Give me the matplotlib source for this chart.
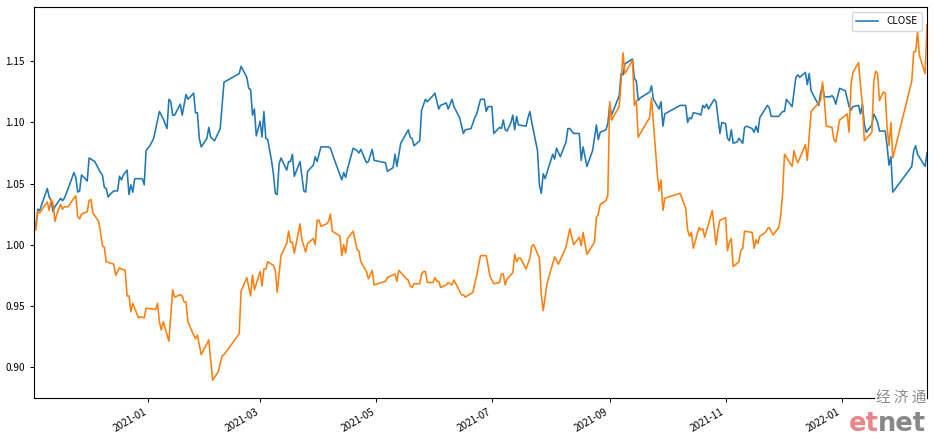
import matplotlib
matplotlib.use("Agg")
import matplotlib.pyplot as plt
import matplotlib.dates as mdates
import pandas as pd

plt.rcParams['font.family'] = ['Noto Sans CJK SC', 'DejaVu Sans']
plt.rcParams['font.size'] = 7.2

blue_label = "CLOSE"

blue_dates = [
    "2020-11-02", "2020-11-03", "2020-11-04", "2020-11-05", "2020-11-09", "2020-11-10", "2020-11-11",
    "2020-11-12", "2020-11-13", "2020-11-16", "2020-11-17", "2020-11-18", "2020-11-20", "2020-11-23",
    "2020-11-24", "2020-11-25", "2020-11-26", "2020-11-27", "2020-11-29", "2020-11-30", "2020-12-01",
    "2020-12-02", "2020-12-04", "2020-12-07", "2020-12-08", "2020-12-09", "2020-12-10", "2020-12-11",
    "2020-12-12", "2020-12-14", "2020-12-16", "2020-12-17", "2020-12-18", "2020-12-19", "2020-12-21",
    "2020-12-22", "2020-12-23", "2020-12-24", "2020-12-25", "2020-12-29", "2020-12-30", "2020-12-31",
    "2021-01-02", "2021-01-04", "2021-01-07", "2021-01-09", "2021-01-11", "2021-01-12", "2021-01-13",
    "2021-01-14", "2021-01-15", "2021-01-18", "2021-01-19", "2021-01-21", "2021-01-22", "2021-01-25",
    "2021-01-26", "2021-01-27", "2021-01-28", "2021-01-29", "2021-02-01", "2021-02-02", "2021-02-03",
    "2021-02-05", "2021-02-08", "2021-02-10", "2021-02-18", "2021-02-19", "2021-02-22", "2021-02-23",
    "2021-02-24", "2021-02-25", "2021-02-26", "2021-02-27", "2021-03-01", "2021-03-02", "2021-03-03",
    "2021-03-04", "2021-03-05", "2021-03-07", "2021-03-08", "2021-03-09", "2021-03-10", "2021-03-11",
    "2021-03-12", "2021-03-15", "2021-03-16", "2021-03-17", "2021-03-18", "2021-03-19", "2021-03-22",
    "2021-03-24", "2021-03-25", "2021-03-26", "2021-03-29", "2021-03-30", "2021-03-31", "2021-04-02",
    "2021-04-06", "2021-04-07", "2021-04-09", "2021-04-13", "2021-04-14", "2021-04-15", "2021-04-16",
    "2021-04-19", "2021-04-21", "2021-04-22", "2021-04-23", "2021-04-26", "2021-04-27", "2021-04-29",
    "2021-04-30", "2021-05-06", "2021-05-07", "2021-05-10", "2021-05-11", "2021-05-12", "2021-05-14",
    "2021-05-18", "2021-05-19", "2021-05-20", "2021-05-21", "2021-05-24", "2021-05-25", "2021-05-27",
    "2021-05-28", "2021-05-31", "2021-06-01", "2021-06-03", "2021-06-04", "2021-06-07", "2021-06-08",
    "2021-06-10", "2021-06-11", "2021-06-14", "2021-06-16", "2021-06-17", "2021-06-20", "2021-06-22",
    "2021-06-23", "2021-06-25", "2021-06-27", "2021-06-28", "2021-06-29", "2021-06-30", "2021-07-01",
    "2021-07-02", "2021-07-05", "2021-07-06", "2021-07-07", "2021-07-08", "2021-07-09", "2021-07-11",
    "2021-07-12", "2021-07-13", "2021-07-14", "2021-07-15", "2021-07-19", "2021-07-20", "2021-07-21",
    "2021-07-22", "2021-07-25", "2021-07-26", "2021-07-27", "2021-07-28", "2021-07-29", "2021-08-02",
    "2021-08-03", "2021-08-04", "2021-08-06", "2021-08-09", "2021-08-10", "2021-08-11", "2021-08-13",
    "2021-08-16", "2021-08-17", "2021-08-18", "2021-08-20", "2021-08-23", "2021-08-25", "2021-08-26",
    "2021-08-27", "2021-08-30", "2021-08-31", "2021-09-01", "2021-09-02", "2021-09-06", "2021-09-07",
    "2021-09-08", "2021-09-09", "2021-09-13", "2021-09-14", "2021-09-15", "2021-09-16", "2021-09-17",
    "2021-09-22", "2021-09-23", "2021-09-24", "2021-09-27", "2021-09-28", "2021-09-29", "2021-09-30",
    "2021-10-08", "2021-10-11", "2021-10-12", "2021-10-13", "2021-10-14", "2021-10-15", "2021-10-18",
    "2021-10-19", "2021-10-20", "2021-10-21", "2021-10-22", "2021-10-23", "2021-10-26", "2021-10-27",
    "2021-10-29", "2021-10-30", "2021-11-01", "2021-11-02", "2021-11-03", "2021-11-04", "2021-11-05",
    "2021-11-07", "2021-11-08", "2021-11-10", "2021-11-11", "2021-11-12", "2021-11-15", "2021-11-16",
    "2021-11-17", "2021-11-18", "2021-11-19", "2021-11-23", "2021-11-24", "2021-11-25", "2021-11-29",
    "2021-12-01", "2021-12-02", "2021-12-03", "2021-12-05", "2021-12-06", "2021-12-08", "2021-12-09",
    "2021-12-10", "2021-12-13", "2021-12-14", "2021-12-15", "2021-12-16", "2021-12-20", "2021-12-21",
    "2021-12-22", "2021-12-23", "2021-12-26", "2021-12-27", "2021-12-28", "2021-12-29", "2021-12-31",
    "2022-01-03", "2022-01-05", "2022-01-06", "2022-01-07", "2022-01-10", "2022-01-11", "2022-01-12",
    "2022-01-13", "2022-01-14", "2022-01-17", "2022-01-18", "2022-01-19", "2022-01-20", "2022-01-21",
    "2022-01-24", "2022-01-25", "2022-01-26", "2022-01-27", "2022-01-28", "2022-02-07", "2022-02-08",
    "2022-02-09", "2022-02-10", "2022-02-14", "2022-02-15",
]
blue_vals = [
    1.014, 1.016, 1.029, 1.028, 1.046, 1.039, 1.036,
    1.027, 1.031, 1.038, 1.036, 1.038, 1.046, 1.059,
    1.055, 1.043, 1.044, 1.057, 1.054, 1.052, 1.071,
    1.070, 1.068, 1.059, 1.057, 1.047, 1.046, 1.039,
    1.041, 1.044, 1.044, 1.056, 1.053, 1.057, 1.061,
    1.041, 1.049, 1.043, 1.054, 1.054, 1.049, 1.077,
    1.081, 1.087, 1.109, 1.103, 1.095, 1.119, 1.117,
    1.106, 1.106, 1.115, 1.106, 1.123, 1.119, 1.124,
    1.108, 1.108, 1.087, 1.080, 1.087, 1.096, 1.088,
    1.085, 1.095, 1.133, 1.140, 1.146, 1.137, 1.128,
    1.127, 1.106, 1.111, 1.089, 1.101, 1.088, 1.109,
    1.087, 1.086, 1.069, 1.058, 1.042, 1.041, 1.066,
    1.071, 1.061, 1.068, 1.068, 1.074, 1.056, 1.068,
    1.044, 1.043, 1.060, 1.065, 1.072, 1.068, 1.080,
    1.080, 1.079, 1.070, 1.053, 1.059, 1.055, 1.062,
    1.079, 1.077, 1.075, 1.078, 1.067, 1.068, 1.078,
    1.069, 1.067, 1.060, 1.063, 1.074, 1.064, 1.083,
    1.094, 1.088, 1.087, 1.081, 1.085, 1.110, 1.119,
    1.117, 1.122, 1.124, 1.111, 1.114, 1.116, 1.111,
    1.119, 1.113, 1.104, 1.091, 1.094, 1.095, 1.104,
    1.107, 1.119, 1.119, 1.109, 1.113, 1.113, 1.113,
    1.091, 1.096, 1.095, 1.102, 1.094, 1.093, 1.100,
    1.106, 1.094, 1.105, 1.098, 1.097, 1.104, 1.109,
    1.100, 1.077, 1.049, 1.042, 1.058, 1.054, 1.074,
    1.070, 1.079, 1.072, 1.084, 1.095, 1.095, 1.091,
    1.091, 1.069, 1.080, 1.064, 1.077, 1.098, 1.086,
    1.092, 1.094, 1.099, 1.114, 1.106, 1.122, 1.140,
    1.139, 1.148, 1.152, 1.136, 1.134, 1.118, 1.120,
    1.125, 1.130, 1.119, 1.111, 1.117, 1.097, 1.107,
    1.114, 1.114, 1.100, 1.104, 1.103, 1.108, 1.107,
    1.106, 1.114, 1.112, 1.115, 1.111, 1.119, 1.117,
    1.091, 1.100, 1.099, 1.087, 1.085, 1.094, 1.083,
    1.084, 1.087, 1.083, 1.096, 1.097, 1.095, 1.092,
    1.097, 1.092, 1.104, 1.114, 1.112, 1.105, 1.105,
    1.109, 1.109, 1.119, 1.115, 1.113, 1.137, 1.139,
    1.137, 1.141, 1.131, 1.140, 1.126, 1.114, 1.124,
    1.130, 1.121, 1.121, 1.122, 1.120, 1.115, 1.128,
    1.126, 1.113, 1.110, 1.113, 1.114, 1.107, 1.115,
    1.099, 1.092, 1.098, 1.107, 1.104, 1.100, 1.093,
    1.093, 1.081, 1.065, 1.072, 1.043, 1.064, 1.077,
    1.081, 1.074, 1.064, 1.075,
]

orange_dates = [
    "2020-11-02", "2020-11-03", "2020-11-04", "2020-11-05", "2020-11-09", "2020-11-10", "2020-11-11",
    "2020-11-12", "2020-11-13", "2020-11-14", "2020-11-16", "2020-11-17", "2020-11-18", "2020-11-20",
    "2020-11-23", "2020-11-24", "2020-11-25", "2020-11-26", "2020-11-27", "2020-11-30", "2020-12-01",
    "2020-12-02", "2020-12-03", "2020-12-06", "2020-12-07", "2020-12-08", "2020-12-09", "2020-12-10",
    "2020-12-14", "2020-12-15", "2020-12-17", "2020-12-18", "2020-12-20", "2020-12-21", "2020-12-22",
    "2020-12-23", "2020-12-24", "2020-12-27", "2020-12-28", "2020-12-30", "2020-12-31", "2021-01-05",
    "2021-01-06", "2021-01-07", "2021-01-08", "2021-01-09", "2021-01-12", "2021-01-14", "2021-01-15",
    "2021-01-18", "2021-01-19", "2021-01-20", "2021-01-21", "2021-01-22", "2021-01-25", "2021-01-26",
    "2021-01-27", "2021-01-29", "2021-02-02", "2021-02-04", "2021-02-07", "2021-02-09", "2021-02-10",
    "2021-02-18", "2021-02-19", "2021-02-22", "2021-02-24", "2021-02-25", "2021-02-26", "2021-03-01",
    "2021-03-02", "2021-03-03", "2021-03-04", "2021-03-05", "2021-03-08", "2021-03-09", "2021-03-10",
    "2021-03-12", "2021-03-15", "2021-03-16", "2021-03-17", "2021-03-18", "2021-03-19", "2021-03-22",
    "2021-03-23", "2021-03-25", "2021-03-26", "2021-03-29", "2021-03-30", "2021-03-31", "2021-04-01",
    "2021-04-02", "2021-04-05", "2021-04-06", "2021-04-07", "2021-04-08", "2021-04-12", "2021-04-13",
    "2021-04-14", "2021-04-15", "2021-04-16", "2021-04-19", "2021-04-21", "2021-04-22", "2021-04-23",
    "2021-04-26", "2021-04-27", "2021-04-29", "2021-04-30", "2021-05-06", "2021-05-07", "2021-05-11",
    "2021-05-12", "2021-05-13", "2021-05-17", "2021-05-18", "2021-05-19", "2021-05-20", "2021-05-21",
    "2021-05-24", "2021-05-25", "2021-05-26", "2021-05-27", "2021-05-28", "2021-05-31", "2021-06-01",
    "2021-06-02", "2021-06-03", "2021-06-04", "2021-06-07", "2021-06-08", "2021-06-10", "2021-06-11",
    "2021-06-15", "2021-06-16", "2021-06-17", "2021-06-21", "2021-06-23", "2021-06-25", "2021-06-28",
    "2021-06-30", "2021-07-02", "2021-07-05", "2021-07-06", "2021-07-07", "2021-07-08", "2021-07-09",
    "2021-07-12", "2021-07-13", "2021-07-14", "2021-07-15", "2021-07-16", "2021-07-19", "2021-07-21",
    "2021-07-22", "2021-07-23", "2021-07-26", "2021-07-27", "2021-07-28", "2021-07-30", "2021-08-03",
    "2021-08-05", "2021-08-09", "2021-08-11", "2021-08-13", "2021-08-16", "2021-08-17", "2021-08-18",
    "2021-08-20", "2021-08-24", "2021-08-25", "2021-08-26", "2021-08-27", "2021-08-30", "2021-08-31",
    "2021-09-01", "2021-09-02", "2021-09-06", "2021-09-07", "2021-09-08", "2021-09-09", "2021-09-13",
    "2021-09-14", "2021-09-15", "2021-09-16", "2021-09-22", "2021-09-23", "2021-09-26", "2021-09-27",
    "2021-09-28", "2021-09-29", "2021-09-30", "2021-10-08", "2021-10-11", "2021-10-12", "2021-10-13",
    "2021-10-14", "2021-10-15", "2021-10-18", "2021-10-19", "2021-10-20", "2021-10-21", "2021-10-25",
    "2021-10-27", "2021-10-28", "2021-10-29", "2021-11-01", "2021-11-02", "2021-11-03", "2021-11-04",
    "2021-11-05", "2021-11-08", "2021-11-09", "2021-11-10", "2021-11-11", "2021-11-15", "2021-11-16",
    "2021-11-17", "2021-11-18", "2021-11-19", "2021-11-22", "2021-11-23", "2021-11-24", "2021-11-26",
    "2021-11-29", "2021-11-30", "2021-12-01", "2021-12-02", "2021-12-06", "2021-12-07", "2021-12-08",
    "2021-12-09", "2021-12-13", "2021-12-14", "2021-12-16", "2021-12-20", "2021-12-21", "2021-12-22",
    "2021-12-23", "2021-12-24", "2021-12-27", "2021-12-28", "2021-12-29", "2021-12-31", "2022-01-04",
    "2022-01-05", "2022-01-06", "2022-01-07", "2022-01-10", "2022-01-11", "2022-01-12", "2022-01-13",
    "2022-01-17", "2022-01-18", "2022-01-19", "2022-01-20", "2022-01-21", "2022-01-23", "2022-01-24",
    "2022-01-25", "2022-01-26", "2022-01-27", "2022-01-28", "2022-02-07", "2022-02-08", "2022-02-09",
    "2022-02-10", "2022-02-11", "2022-02-14", "2022-02-15",
]
orange_vals = [
    1.014, 1.012, 1.027, 1.026, 1.035, 1.028, 1.037,
    1.034, 1.019, 1.025, 1.033, 1.029, 1.031, 1.031,
    1.038, 1.040, 1.023, 1.021, 1.025, 1.027, 1.036,
    1.037, 1.026, 1.019, 1.010, 0.999, 0.998, 0.986,
    0.984, 0.975, 0.981, 0.980, 0.979, 0.958, 0.958,
    0.945, 0.952, 0.940, 0.941, 0.940, 0.948, 0.947,
    0.952, 0.937, 0.930, 0.937, 0.921, 0.963, 0.957,
    0.959, 0.958, 0.953, 0.953, 0.937, 0.926, 0.923,
    0.926, 0.910, 0.922, 0.889, 0.896, 0.909, 0.910,
    0.927, 0.962, 0.973, 0.958, 0.975, 0.963, 0.978,
    0.966, 0.980, 0.980, 0.986, 0.983, 0.979, 0.961,
    0.991, 1.001, 1.011, 1.002, 1.002, 0.993, 1.017,
    1.004, 0.994, 1.001, 1.005, 1.000, 1.020, 1.020,
    1.015, 1.017, 1.019, 1.025, 1.011, 1.007, 0.991,
    1.000, 0.993, 1.005, 1.011, 0.996, 0.995, 0.986,
    0.978, 0.972, 0.979, 0.967, 0.970, 0.973, 0.976,
    0.970, 0.979, 0.972, 0.971, 0.966, 0.965, 0.968,
    0.968, 0.976, 0.978, 0.978, 0.969, 0.969, 0.973,
    0.970, 0.970, 0.965, 0.967, 0.969, 0.967, 0.971,
    0.959, 0.959, 0.957, 0.961, 0.975, 0.991, 0.991,
    0.974, 0.968, 0.969, 0.976, 0.976, 0.967, 0.972,
    0.977, 0.992, 0.986, 0.989, 0.989, 0.980, 0.989,
    0.999, 1.000, 0.989, 0.959, 0.946, 0.968, 0.990,
    0.984, 0.998, 1.013, 1.000, 1.006, 0.999, 1.010,
    0.992, 1.002, 1.022, 1.025, 1.033, 1.036, 1.040,
    1.117, 1.102, 1.113, 1.133, 1.157, 1.140, 1.151,
    1.114, 1.118, 1.088, 1.104, 1.120, 1.059, 1.044,
    1.053, 1.028, 1.038, 1.042, 1.030, 1.012, 1.007,
    1.010, 0.997, 1.014, 1.012, 1.013, 1.006, 1.028,
    1.000, 1.012, 1.020, 1.022, 0.995, 1.002, 1.005,
    0.982, 0.986, 0.995, 0.997, 1.011, 1.010, 0.997,
    1.004, 1.001, 1.007, 1.010, 1.013, 1.014, 1.008,
    1.014, 1.024, 1.042, 1.074, 1.064, 1.077, 1.071,
    1.067, 1.082, 1.069, 1.109, 1.116, 1.118, 1.133,
    1.118, 1.097, 1.096, 1.086, 1.084, 1.102, 1.107,
    1.092, 1.131, 1.141, 1.149, 1.130, 1.115, 1.085,
    1.092, 1.134, 1.142, 1.140, 1.118, 1.125, 1.124,
    1.096, 1.081, 1.100, 1.071, 1.134, 1.158, 1.158,
    1.174, 1.155, 1.140, 1.180,
]

ytick_values = [0.90, 0.95, 1.00, 1.05, 1.10, 1.15]

bd = pd.to_datetime(blue_dates)
od = pd.to_datetime(orange_dates)

fig = plt.figure(figsize=(9.34, 4.37), dpi=100)
ax = fig.add_axes([34 / 934, 1 - 398 / 437, (927 - 34) / 934, (398 - 7) / 437])

ax.plot(bd, blue_vals, color="#1f77b4", lw=1.15, label=blue_label)
ax.plot(od, orange_vals, color="#ff7f0e", lw=1.15, label="_nolegend_")

ax.set_xlim(min(bd.min(), od.min()), max(bd.max(), od.max()))
ax.margins(y=0.05)

ax.xaxis.set_major_locator(mdates.MonthLocator(bymonth=[1, 3, 5, 7, 9, 11]))
ax.xaxis.set_major_formatter(mdates.DateFormatter("%Y-%m"))
ax.set_yticks(ytick_values)
ax.set_yticklabels([f"{v:.2f}" for v in ytick_values])
for lab in ax.get_xticklabels():
    lab.set_rotation(30)
    lab.set_ha("right")
ax.tick_params(labelsize=7.2, length=3, width=0.7)
for sp in ax.spines.values():
    sp.set_linewidth(0.8)

ax.legend(loc="upper right", fontsize=7.2, handlelength=2.2, borderpad=0.45)

# watermark
fig.text(926 / 934, 1 - 392 / 437, "经 济 通", ha="right", va="top", fontsize=10.5,
         color="#8a8a8a", family=["Noto Sans CJK SC", "DejaVu Sans"],
         bbox=dict(facecolor="white", edgecolor="none", pad=0.5))
t1 = fig.text(849 / 934, 1 - 431 / 437, "et", ha="left", va="baseline", fontsize=18.5,
              color="#e8868c", weight="bold", family="DejaVu Sans")
ax.annotate("net", xy=(1, 0), xycoords=t1, xytext=(-0.5, 0), textcoords="offset points",
            ha="left", va="bottom", fontsize=18.5, color="#888888", weight="bold",
            family="DejaVu Sans", annotation_clip=False)

fig.savefig("out.png", dpi=100)
